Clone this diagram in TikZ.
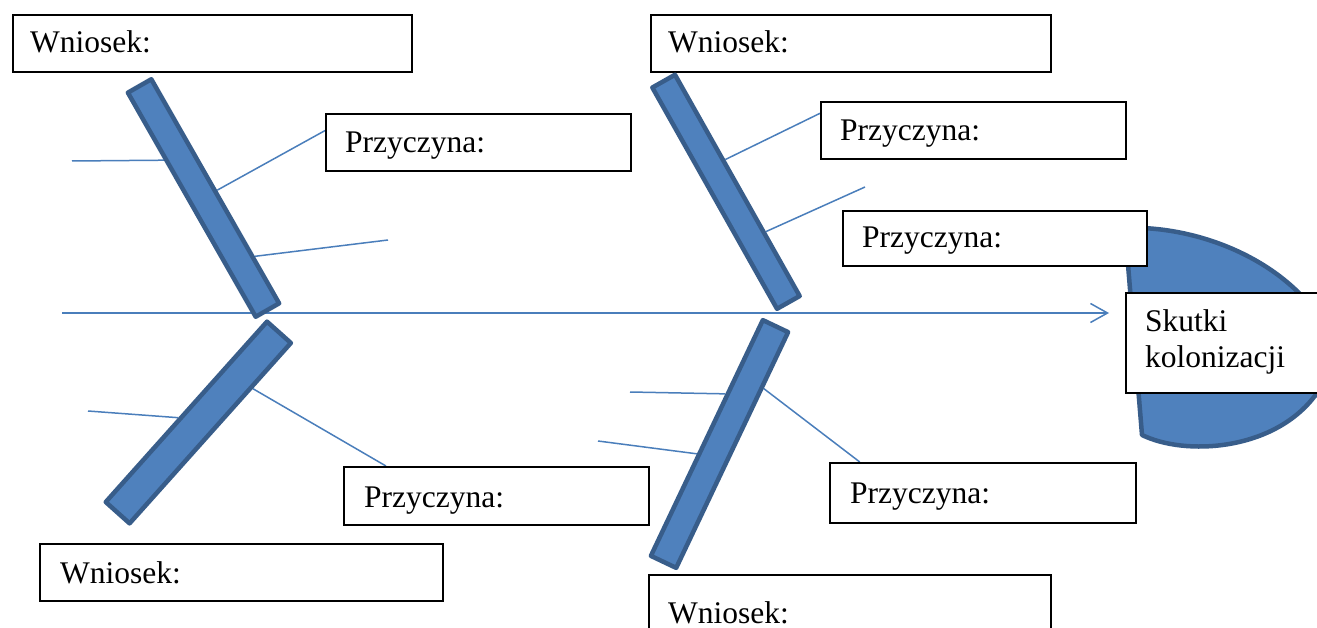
\documentclass[tikz,border=0pt]{standalone}
\usepackage{fontspec}
\setmainfont{Liberation Serif}
\usetikzlibrary{calc,arrows.meta,backgrounds}
\definecolor{barfill}{HTML}{4F81BD}
\definecolor{baredge}{HTML}{385D8A}
\definecolor{linkblue}{HTML}{4A7EBB}
\begin{document}
\begin{tikzpicture}[x=1pt,y=-1pt,
  box/.style={draw=black, fill=white, line width=1.6pt, anchor=north west, inner sep=0pt},
  lbl/.style={anchor=base west, inner sep=0pt, font=\fontsize{31.5}{36}\selectfont},
  bar/.style={draw=baredge, fill=barfill, line width=4.5pt, line join=round, inner sep=0pt},
  twig/.style={draw=linkblue, line width=1.5pt},
]
\clip (0,0) rectangle (1317,628);

% fish head
\draw[bar] (1125,228) .. controls (1200,225) and (1297,263) .. (1332,340)
  .. controls (1335,360) and (1327,383) .. (1314,397)
  .. controls (1272,451) and (1185,456) .. (1142,435) -- cycle;

% boxes
\node[box, minimum width=399, minimum height=57] (w1) at (12,14) {};
\node[box, minimum width=305, minimum height=57] (p1) at (325,113) {};
\node[box, minimum width=400, minimum height=57] (w2) at (650,14) {};
\node[box, minimum width=305, minimum height=57] (p2a) at (820,101) {};
\node[box, minimum width=304, minimum height=55] (p2b) at (842,210) {};
\node[box, minimum width=230, minimum height=100] (sk) at (1125,292) {};
\node[box, minimum width=305, minimum height=58] (p3) at (343,466) {};
\node[box, minimum width=403, minimum height=57] (w3) at (39,543) {};
\node[box, minimum width=306, minimum height=60] (p4) at (829,462) {};
\node[box, minimum width=402, minimum height=80] (w4) at (648,574) {};

% box texts
\node[lbl] (w1t) at ($(w1.north west)+(18,39)$) {Wniosek:};
\node[lbl] (p1t) at ($(p1.north west)+(20,40)$) {Przyczyna:};
\node[lbl] (w2t) at ($(w2.north west)+(18,39)$) {Wniosek:};
\node[lbl] (p2at) at ($(p2a.north west)+(20,40)$) {Przyczyna:};
\node[lbl] (p2bt) at ($(p2b.north west)+(20,38)$) {Przyczyna:};
\node[lbl] (skt) at ($(sk.north west)+(20,39)$)
  {\begin{tabular}[t]{@{}l@{}}Skutki\\kolonizacji\end{tabular}};
\node[lbl] (p3t) at ($(p3.north west)+(21,41)$) {Przyczyna:};
\node[lbl] (w3t) at ($(w3.north west)+(21,40)$) {Wniosek:};
\node[lbl] (p4t) at ($(p4.north west)+(21,41)$) {Przyczyna:};
\node[lbl] (w4t) at ($(w4.north west)+(20,49)$) {Wniosek:};

% bones
\node[bar, minimum width=258, minimum height=27, rotate=-60.3] (b1) at (203.5,198) {};
\node[bar, minimum width=242, minimum height=32, rotate=48.2] (b2) at (198.3,422.5) {};
\node[bar, minimum width=254, minimum height=26, rotate=-60.6] (b3) at (726,191.8) {};
\node[bar, minimum width=261, minimum height=28, rotate=64.6] (b4) at (719.5,444) {};

% free ends
\coordinate (spineStart) at (62,313);
\coordinate (spineTip) at (1109,313);
\coordinate (f1) at (72,161);
\coordinate (f2) at (388,240);
\coordinate (f3) at (88,411);
\coordinate (f4) at (865,187);
\coordinate (f5) at (630,392);
\coordinate (f6) at (598,441);

\begin{scope}[on background layer]
  \fill[white] (0,0) rectangle (1317,628);
  \draw[twig, -{Straight Barb[length=17pt,width=19pt]}] (spineStart) -- (spineTip);
  \draw[twig] (f1) -- ($(b1.south west)!0.3!(b1.south east)$);
  \draw[twig] ($(b1.north west)!0.5!(b1.north east)$) -- ($(p1.north west)!0.3!(p1.south west)$);
  \draw[twig] ($(b1.north west)!0.79!(b1.north east)$) -- (f2);
  \draw[twig] (f3) -- ($(b2.north west)!0.46!(b2.north east)$);
  \draw[twig] ($(b2.south west)!0.75!(b2.south east)$) -- ($(p3.north west)!0.14!(p3.north east)$);
  \draw[twig] ($(b3.north west)!0.39!(b3.north east)$) -- ($(p2a.north west)!0.21!(p2a.south west)$);
  \draw[twig] ($(b3.north west)!0.71!(b3.north east)$) -- (f4);
  \draw[twig] (f5) -- ($(b4.north west)!0.68!(b4.north east)$);
  \draw[twig] (f6) -- ($(b4.north west)!0.43!(b4.north east)$);
  \draw[twig] ($(b4.south west)!0.76!(b4.south east)$) -- ($(p4.north west)!0.10!(p4.north east)$);
\end{scope}
\end{tikzpicture}
\end{document}
